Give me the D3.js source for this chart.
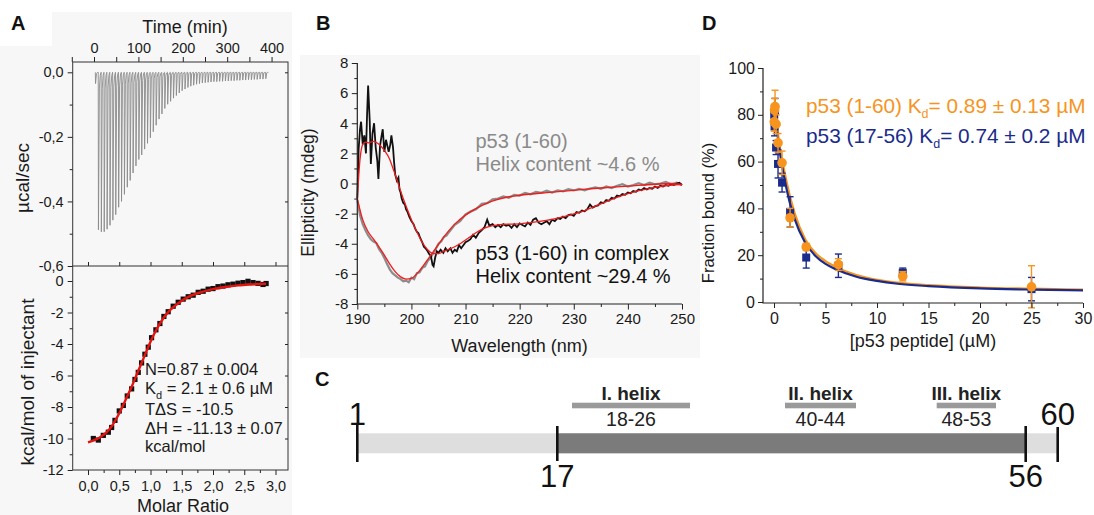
<!DOCTYPE html>
<html>
<head>
<meta charset="utf-8">
<script src="https://cdn.jsdelivr.net/npm/d3@7"></script>
<style>
body { margin: 0; background: #fff; }
svg { display: block; font-family: "Liberation Sans", Arial, sans-serif; }
.tick text { fill: #1a1a1a; }
.tick line { stroke: #222; }
</style>
</head>
<body>
<div id="chart"></div>
<script>
// ---------------- data ----------------
// A (top): ITC raw heats, one minimum per injection (µcal/sec)
const injectionTimes = [3, 9.5, 16, 22.5, 29, 35.5, 42, 48.5, 55, 61.5, 68, 74.5, 81, 87.5, 94, 100.5, 107, 113.5, 120, 126.5,
  133, 139.5, 146, 152.5, 159, 165.5, 172, 178.5, 185, 191.5, 198, 204.5, 211, 217.5, 224, 230.5, 237, 243.5, 250, 256.5,
  263, 269.5, 276, 282.5, 289, 295.5, 302, 308.5, 315, 321.5, 328, 334.5, 341, 347.5, 354, 360.5, 367, 373.5, 380, 386.5];
const injectionPeaks = [-0.035, -0.488, -0.494, -0.494, -0.486, -0.474, -0.458, -0.441, -0.418, -0.400,
  -0.378, -0.356, -0.335, -0.312, -0.290, -0.270, -0.256, -0.238, -0.220, -0.203,
  -0.184, -0.164, -0.145, -0.129, -0.112, -0.099, -0.090, -0.080, -0.072, -0.064,
  -0.057, -0.052, -0.047, -0.043, -0.040, -0.037, -0.035, -0.033, -0.032, -0.031,
  -0.030, -0.029, -0.029, -0.028, -0.028, -0.027, -0.027, -0.026, -0.026, -0.025,
  -0.025, -0.024, -0.024, -0.023, -0.023, -0.022, -0.022, -0.021, -0.021, -0.020];
const minTicks = [0, 100, 200, 300, 400];

// A (bottom): integrated heats (kcal/mol of injectant) vs molar ratio
const molarRatio = [0.085, 0.165, 0.245, 0.325, 0.378, 0.431, 0.50, 0.565, 0.628, 0.698, 0.751, 0.804, 0.857, 0.910,
  0.964, 1.017, 1.086, 1.15, 1.214, 1.283, 1.363, 1.443, 1.523, 1.603, 1.683, 1.763, 1.843, 1.922, 2.0, 2.08,
  2.16, 2.24, 2.32, 2.40, 2.48, 2.56, 2.64, 2.72, 2.80, 2.85];
const heats = [-10.0, -10.1, -9.8, -9.6, -9.3, -8.85, -8.25, -7.9, -7.3, -6.85, -6.25, -5.8, -5.2, -4.65,
  -4.2, -3.6, -3.1, -2.7, -2.25, -1.95, -1.6, -1.35, -1.15, -1.0, -0.9, -0.72, -0.65, -0.52, -0.48, -0.36,
  -0.32, -0.24, -0.2, -0.14, -0.1, -0.02, -0.1, -0.15, -0.22, -0.16];
const fitRatio = [0, 0.1, 0.2, 0.3, 0.4, 0.5, 0.6, 0.7, 0.8, 0.9, 1.0, 1.1, 1.2, 1.3, 1.4, 1.5, 1.6, 1.8, 2.0, 2.2, 2.4, 2.6, 2.85];
const fitHeat = [-10.25, -10.1, -9.9, -9.6, -9.1, -8.4, -7.55, -6.7, -5.75, -4.8, -3.85, -3.05, -2.4, -1.9, -1.55, -1.25,
  -1.02, -0.72, -0.52, -0.38, -0.28, -0.22, -0.17];
const itcText = ["N=0.87 ± 0.004", "K|d| = 2.1 ± 0.6 µM", "TΔS = -10.5", "ΔH = -11.13 ± 0.07", "kcal/mol"];

// B: CD spectra [wavelength nm, ellipticity mdeg]
const cdFree = [[190, -1.1], [190.5, -2.1], [191, -2.7], [191.5, -3.1], [192, -3.45], [192.5, -3.7], [193, -3.85], [193.5, -3.95],
  [194, -4.35], [194.5, -4.6], [195, -4.95], [195.5, -5.35], [196, -5.7], [196.5, -5.95], [197, -6.1], [197.5, -6.25],
  [198, -6.35], [198.5, -6.5], [199, -6.45], [199.5, -6.55], [200, -6.25], [200.5, -6.35], [201, -5.95], [201.5, -5.9],
  [202, -5.6], [202.5, -5.5], [203, -5.15], [203.5, -4.95], [204, -4.65], [204.5, -4.35], [205, -4.0], [205.5, -3.85],
  [206, -3.55], [206.5, -3.45], [207, -3.2], [208, -2.75], [209, -2.5], [210, -2.05], [211, -1.85], [212, -1.7],
  [213, -1.35], [214, -1.3], [215, -1.05], [216, -1.0], [217, -0.85], [218, -0.95], [219, -0.75], [220, -0.8],
  [221, -0.62], [222, -0.72], [223, -0.55], [224, -0.62], [225, -0.48], [226, -0.6], [227, -0.45], [228, -0.52],
  [229, -0.38], [230, -0.46], [231, -0.35], [232, -0.45], [233, -0.33], [234, -0.25], [235, -0.36], [236, -0.2],
  [237, -0.3], [238, -0.15], [239, -0.05], [240, -0.2], [241, -0.1], [242, 0.02], [243, -0.1], [244, 0.05],
  [245, -0.05], [246, 0.0], [247, 0.1], [248, -0.05], [249, 0.06], [250, -0.1]];
const cdFreeFit = [[190, -1.0], [191, -2.4], [192, -3.2], [193, -3.7], [194, -4.2], [195, -4.75], [196, -5.35], [197, -5.85],
  [198, -6.2], [199, -6.35], [200, -6.3], [201, -6.0], [202, -5.55], [203, -5.05], [204, -4.55], [205, -4.05],
  [206, -3.55], [207, -3.1], [208, -2.7], [210, -2.1], [212, -1.65], [214, -1.3], [216, -1.05], [218, -0.88],
  [220, -0.78], [225, -0.6], [230, -0.45], [235, -0.3], [240, -0.18], [245, -0.05], [248, 0.0], [250, -0.1]];
const cdComplex = [[190, -1.0], [190.25, 2.3], [190.5, 3.6], [190.7, 4.1], [191, 2.6], [191.3, 3.2], [191.6, 2.0], [191.8, 4.5],
  [192, 6.5], [192.3, 4.1], [192.5, 1.3], [192.8, 3.3], [193.1, 4.0], [193.4, 2.4], [193.7, 1.5], [193.9, 0.3],
  [194.2, 2.5], [194.5, 3.2], [194.7, 3.6], [195, 2.1], [195.3, 2.9], [195.5, 2.6], [195.8, 2.1], [196.1, 2.6],
  [196.3, 3.2], [196.6, 2.4], [196.8, 1.4], [197, 0.6], [197.3, 0.2], [197.6, 0.4], [197.8, -0.4], [198, -0.6],
  [198.2, -1.0], [198.5, -1.3], [198.8, -1.4], [199, -1.7], [199.3, -1.9], [199.6, -2.2], [200, -2.5], [200.4, -2.7],
  [200.7, -3.0], [201, -3.2], [201.3, -3.3], [201.6, -3.6], [202, -3.9], [202.3, -4.2], [202.6, -4.3], [203, -4.5],
  [203.3, -4.7], [203.6, -4.8], [203.9, -5.4], [204.1, -5.5], [204.4, -4.9], [204.7, -4.5], [205, -4.6], [205.4, -4.4],
  [205.9, -4.6], [206.3, -4.3], [206.7, -4.5], [207.2, -4.3], [207.6, -4.6], [208, -4.4], [208.4, -4.5], [208.8, -4.1],
  [209.2, -4.3], [209.6, -4.1], [210, -3.9], [210.5, -3.8], [210.9, -3.7], [211.4, -3.4], [211.9, -3.6], [212.4, -3.3],
  [213, -3.1], [213.5, -2.9], [214, -2.4], [214.4, -2.8], [215, -2.7], [215.5, -2.9], [216, -2.75], [216.5, -2.9],
  [217, -2.7], [217.5, -2.8], [218, -2.75], [218.5, -2.95], [219, -2.7], [219.5, -2.9], [220, -2.65], [220.5, -2.75],
  [221, -2.85], [221.5, -2.6], [222, -2.75], [222.5, -2.4], [223, -2.3], [223.5, -2.6], [224, -2.7], [224.5, -2.6],
  [225, -2.5], [225.5, -2.7], [226, -2.4], [226.5, -2.5], [227, -2.3], [227.5, -2.35], [228, -2.2], [228.5, -2.3],
  [229, -2.1], [229.5, -2.05], [230, -2.15], [230.5, -1.9], [231, -1.95], [231.5, -1.8], [232, -1.85], [232.5, -1.7],
  [233, -1.4], [233.5, -1.6], [234, -1.5], [234.5, -1.45], [235, -1.25], [235.5, -1.3], [236, -1.1], [236.5, -1.15],
  [237, -0.95], [237.5, -1.0], [238, -0.8], [238.5, -0.85], [239, -0.7], [239.5, -0.75], [240, -0.6], [240.5, -0.65],
  [241, -0.5], [241.5, -0.55], [242, -0.4], [242.5, -0.45], [243, -0.3], [243.5, -0.4], [244, -0.3], [244.5, -0.35],
  [245, -0.2], [245.5, -0.3], [246, -0.15], [246.5, -0.2], [247, -0.1], [247.5, -0.15], [248, -0.05], [248.5, -0.1],
  [249, 0.0], [249.5, 0.05], [250, -0.1]];
const cdComplexFit = [[190, -1.0], [190.5, 1.6], [191, 2.6], [191.5, 2.75], [192, 2.7], [193, 2.8], [194, 2.6], [195, 2.2],
  [196, 1.6], [196.5, 1.1], [197, 0.6], [198, -0.5], [199, -1.5], [200, -2.4], [201, -3.2], [202, -3.9], [203, -4.4],
  [204, -4.65], [205, -4.65], [206, -4.5], [207, -4.35], [208, -4.2], [209, -4.0], [210, -3.75], [211, -3.5],
  [212, -3.25], [213, -3.05], [214, -2.9], [215, -2.8], [216, -2.75], [218, -2.7], [220, -2.68], [222, -2.6],
  [224, -2.5], [226, -2.38], [228, -2.22], [230, -2.02], [232, -1.8], [234, -1.5], [236, -1.2], [238, -0.92],
  [240, -0.68], [242, -0.48], [244, -0.32], [246, -0.2], [248, -0.1], [250, -0.05]];

// C: p53 construct
const residueEnds = [1, 60];
const coreRegion = [17, 56];
const helixNames = ["I. helix", "II. helix", "III. helix"];
const helixRanges = [[18, 26], [40, 44], [48, 53]];

// D: fraction bound vs peptide concentration
const peptideConc = [0.02, 0.05, 0.1, 0.2, 0.39, 0.78, 1.56, 3.125, 6.25, 12.5, 25];
const bound1to60 = [77, 82, 83.5, 76, 68, 59.5, 36, 23.5, 16, 11, 6.5];
const err1to60 = [4, 5, 7, 4, 4, 5, 4, 1.5, 2.5, 2, 9];
const bound17to56 = [80, 75, 82, 66, 59, 51, 38.5, 19, 15.5, 12.5, 5.5];
const err17to56 = [4, 4, 5, 3, 6, 4, 6.5, 4.5, 5, 2, 5];
const fitConc = [0, 0.25, 0.5, 1, 1.5, 2, 3, 4, 5, 6, 8, 10, 12, 15, 20, 25, 30];
const fit1to60 = [85, 77, 68, 56, 46, 38, 27, 21, 17.5, 15, 11.5, 9.5, 8.3, 7.2, 6.2, 5.7, 5.3];
const fit17to56 = [84, 75, 66, 53, 43, 35.5, 25.5, 19.8, 16.3, 14, 10.8, 9, 7.8, 6.8, 5.8, 5.3, 5.0];

// ---------------- drawing ----------------
const W = 1094, H = 515;
const svg = d3.select('#chart').append('svg').attr('width', W).attr('height', H);
svg.append('rect').attr('width', W).attr('height', H).attr('fill', '#fff');
svg.append('rect').attr('x', 0).attr('y', 12).attr('width', 292).attr('height', 503).attr('fill', '#f7f7f7');
svg.append('rect').attr('x', 0).attr('y', 0).attr('width', 52).attr('height', 46).attr('fill', '#fff');
svg.append('rect').attr('x', 300).attr('y', 55).attr('width', 400).attr('height', 303).attr('fill', '#f7f7f7');

const fmtComma = d3.formatLocale({decimal: ',', thousands: '.', grouping: [3], currency: ['', ''], minus: '-'}).format('.1f');
const fmtInt = d3.formatLocale({decimal: '.', thousands: ',', grouping: [3], currency: ['', ''], minus: '-'}).format('d');

// axis helper: draws ticks only, no domain line
function ticks(g, axisFn, scale, values, size, fmt, pad, fontSize) {
  const ax = axisFn(scale).tickValues(values).tickSizeInner(size).tickSizeOuter(0).tickPadding(pad)
    .tickFormat(fmt || '');
  const sel = g.append('g').call(ax);
  sel.select('.domain').remove();
  sel.selectAll('text').style('font-size', fontSize + 'px').attr('font-family', null);
  sel.attr('font-family', null);
  return sel;
}

function panelLabel(txt, x, y) {
  svg.append('text').attr('x', x).attr('y', y).text(txt)
    .style('font-size', '20px').style('font-weight', 'bold').attr('fill', '#111');
}

function label(txt, x, y, size, rotate, color) {
  const t = svg.append('text').text(txt).attr('text-anchor', 'middle')
    .style('font-size', size + 'px').attr('fill', color || '#1a1a1a');
  if (rotate) t.attr('transform', `translate(${x},${y}) rotate(-90)`);
  else t.attr('x', x).attr('y', y);
  return t;
}

// ===== Panel A =====
panelLabel('A', 11, 30);
const aLeft = 72.7, aRight = 288, aTop = 62, aMid = 266, aBottom = 470;
const xT = d3.scaleLinear().domain([-48, 437]).range([aLeft, aRight]);
const yT = d3.scaleLinear().domain([-0.6, 0]).range([aMid, 72.3]);
const xB = d3.scaleLinear().domain([-0.245, 3.2]).range([aLeft, aRight]);
const yB = d3.scaleLinear().domain([-12, 0]).range([aBottom, 281]);

const gA = svg.append('g');
// raw thermogram: each injection drawn as a sharp spike from its minimum
const thermo = [];
injectionTimes.forEach((t, i) => {
  const d = injectionPeaks[i];
  thermo.push([t, 0], [t + 0.5, d], [t + 2.6, d * 0.1], [t + 4.5, d * 0.02], [t + 6.4, 0]);
});
gA.append('path').datum(thermo)
  .attr('d', d3.line().x(d => xT(d[0])).y(d => yT(d[1])))
  .attr('fill', 'none').attr('stroke', '#8a8a8a').attr('stroke-width', 0.9);

ticks(gA, d3.axisTop, xT, minTicks, 5, d => d, 4, 14.5).attr('transform', `translate(0,${aTop})`);
ticks(gA, d3.axisTop, xT, [-50, 50, 150, 250, 350], 5, null, 4, 14).attr('transform', `translate(0,${aTop})`);
ticks(gA, d3.axisLeft, yT, [0, -0.2, -0.4, -0.6], 5, fmtComma, 4, 14.5).attr('transform', `translate(${aLeft},0)`);
ticks(gA, d3.axisLeft, yT, [-0.1, -0.3, -0.5], 3, null, 4, 14).attr('transform', `translate(${aLeft},0)`);
ticks(gA, d3.axisLeft, yT, [0, -0.2, -0.4], 3, null, 4, 14).attr('transform', `translate(${aRight},0)`);

// bottom: integrated heats
gA.append('g').selectAll('rect').data(molarRatio).join('rect')
  .attr('x', (d) => xB(d) - 2.6).attr('y', (d, i) => yB(heats[i]) - 2.6)
  .attr('width', 5.2).attr('height', 5.2).attr('fill', '#111');
gA.append('path').datum(fitRatio)
  .attr('d', d3.line().curve(d3.curveMonotoneX).x(d => xB(d)).y((d, i) => yB(fitHeat[i])))
  .attr('fill', 'none').attr('stroke', '#e3140f').attr('stroke-width', 2.4);

ticks(gA, d3.axisBottom, xB, [0, 0.5, 1, 1.5, 2, 2.5, 3], 5, fmtComma, 6, 14.5).attr('transform', `translate(0,${aBottom})`);
ticks(gA, d3.axisBottom, xB, [0.25, 0.75, 1.25, 1.75, 2.25, 2.75], 3, null, 4, 14).attr('transform', `translate(0,${aBottom})`);
ticks(gA, d3.axisTop, xB, [0, 0.5, 1, 1.5, 2, 2.5, 3], 4, null, 4, 14).attr('transform', `translate(0,${aMid})`);
ticks(gA, d3.axisLeft, yB, [0, -2, -4, -6, -8, -10, -12], 5, fmtInt, 4, 14.5).attr('transform', `translate(${aLeft},0)`);
ticks(gA, d3.axisLeft, yB, [-1, -3, -5, -7, -9, -11], 3, null, 4, 14).attr('transform', `translate(${aLeft},0)`);
ticks(gA, d3.axisLeft, yB, [0, -2, -4, -6, -8, -10], 3, null, 4, 14).attr('transform', `translate(${aRight},0)`);

gA.append('rect').attr('x', aLeft).attr('y', aTop).attr('width', aRight - aLeft).attr('height', aBottom - aTop)
  .attr('fill', 'none').attr('stroke', '#333').attr('stroke-width', 1);
gA.append('line').attr('x1', aLeft).attr('x2', aRight).attr('y1', aMid).attr('y2', aMid)
  .attr('stroke', '#333').attr('stroke-width', 1.2);

label('Time (min)', 185, 33, 18);
label('µcal/sec', 29, 178, 19, true);
label('kcal/mol of injectant', 34, 382, 19, true);
label('Molar Ratio', 183, 512, 18);

const itcY = [375, 393.5, 415, 434, 452];
itcText.forEach((s, i) => {
  const t = svg.append('text').attr('x', 145).attr('y', itcY[i]).style('font-size', '16.5px').attr('fill', '#1a1a1a');
  const parts = s.split('|');
  if (parts.length === 1) { t.text(s); return; }
  t.append('tspan').text(parts[0]);
  t.append('tspan').text(parts[1]).attr('dy', 5).style('font-size', '11px');
  t.append('tspan').text(parts[2]).attr('dy', -5);
});

// ===== Panel B =====
panelLabel('B', 316, 30);
const xCD = d3.scaleLinear().domain([190, 250]).range([357.3, 682]);
const yCD = d3.scaleLinear().domain([-8, 8]).range([304, 63]);
const gB = svg.append('g');
const cdLine = d3.line().x(d => xCD(d[0])).y(d => yCD(d[1]));
const cdSmooth = d3.line().curve(d3.curveMonotoneX).x(d => xCD(d[0])).y(d => yCD(d[1]));
gB.append('path').datum(cdFree).attr('d', cdLine).attr('fill', 'none').attr('stroke', '#8c8c8c').attr('stroke-width', 2.2);
gB.append('path').datum(cdComplex).attr('d', cdLine).attr('fill', 'none').attr('stroke', '#111').attr('stroke-width', 1.8);
gB.append('path').datum(cdFreeFit).attr('d', cdSmooth).attr('fill', 'none').attr('stroke', '#ee1c1c').attr('stroke-width', 1.3);
gB.append('path').datum(cdComplexFit).attr('d', cdSmooth).attr('fill', 'none').attr('stroke', '#ee1c1c').attr('stroke-width', 1.3);

ticks(gB, d3.axisLeft, yCD, d3.range(-8, 9, 2), 5.5, fmtInt, 3.5, 15).attr('transform', `translate(${xCD(190)},0)`);
ticks(gB, d3.axisLeft, yCD, d3.range(-7, 8, 2), 3, null, 3, 15).attr('transform', `translate(${xCD(190)},0)`);
ticks(gB, d3.axisBottom, xCD, d3.range(190, 251, 10), 5.5, fmtInt, 4, 15).attr('transform', `translate(0,${yCD(-8)})`);
ticks(gB, d3.axisBottom, xCD, d3.range(195, 250, 10), 3, null, 4, 15).attr('transform', `translate(0,${yCD(-8)})`);
gB.append('path').attr('d', `M${xCD(190)},${yCD(8)}V${yCD(-8)}H${xCD(250)}`)
  .attr('fill', 'none').attr('stroke', '#222').attr('stroke-width', 1.2);

label('Wavelength (nm)', 519.5, 352, 18);
label('Ellipticity (mdeg)', 314, 192.5, 17.5, true);
[['p53 (1-60)', 148, '#8a8a8a'], ['Helix content ~4.6 %', 171, '#8a8a8a'],
 ['p53 (1-60) in complex', 260, '#111'], ['Helix content ~29.4 %', 283, '#111']].forEach(d => {
  svg.append('text').attr('x', 475.5).attr('y', d[1]).text(d[0]).style('font-size', '20px').attr('fill', d[2]);
});

// ===== Panel C =====
panelLabel('C', 315, 386);
const rx = d3.scaleLinear()
  .domain([1, 17, 18, 27, 40, 45, 48, 54, 56, 60])
  .range([357.3, 557.3, 572, 690, 785, 856, 936.7, 996, 1025.7, 1057.7]);
const gC = svg.append('g');
const barTop = 433.3, barH = 20;
gC.append('rect').attr('x', rx(residueEnds[0])).attr('y', barTop).attr('width', rx(residueEnds[1]) - rx(residueEnds[0]))
  .attr('height', barH).attr('fill', '#dedede');
gC.append('rect').attr('x', rx(coreRegion[0])).attr('y', barTop).attr('width', rx(coreRegion[1]) - rx(coreRegion[0]))
  .attr('height', barH).attr('fill', '#7b7b7b');
gC.selectAll('.helix').data(helixRanges).join('rect').attr('class', 'helix')
  .attr('x', d => rx(d[0])).attr('y', 402.7).attr('width', d => rx(d[1] + 1) - rx(d[0])).attr('height', 5.6)
  .attr('fill', '#9a9a9a');
gC.selectAll('.hname').data(helixRanges).join('text').attr('class', 'hname')
  .attr('x', d => (rx(d[0]) + rx(d[1] + 1)) / 2).attr('y', 400).attr('text-anchor', 'middle')
  .style('font-size', '19px').style('font-weight', 'bold').attr('fill', '#222').text((d, i) => helixNames[i]);
gC.selectAll('.hrange').data(helixRanges).join('text').attr('class', 'hrange')
  .attr('x', d => (rx(d[0]) + rx(d[1] + 1)) / 2).attr('y', 426).attr('text-anchor', 'middle')
  .style('font-size', '19.5px').attr('fill', '#222').text(d => d[0] + '-' + d[1]);
const marks = [[residueEnds[0], 425, 462, 'up'], [coreRegion[0], 426, 461, 'down'],
  [coreRegion[1], 426, 462, 'down'], [residueEnds[1], 427, 462, 'up']];
gC.selectAll('.mark').data(marks).join('line').attr('class', 'mark')
  .attr('x1', d => rx(d[0])).attr('x2', d => rx(d[0])).attr('y1', d => d[1]).attr('y2', d => d[2])
  .attr('stroke', '#111').attr('stroke-width', 2.6);
gC.selectAll('.mlab').data(marks).join('text').attr('class', 'mlab')
  .attr('x', d => rx(d[0])).attr('y', d => d[3] === 'up' ? 424.5 : 487).attr('text-anchor', 'middle')
  .style('font-size', '31px').attr('fill', '#111').text(d => d[0]);

// ===== Panel D =====
panelLabel('D', 702, 30);
const xD = d3.scaleLinear().domain([-1.07, 30]).range([763, 1083]);
const yD = d3.scaleLinear().domain([0, 100]).range([302, 68]);
const orange = '#f7941e', navy = '#1a2b8c';
const gD = svg.append('g');
const fitLine = vals => d3.line().curve(d3.curveMonotoneX).x(d => xD(d)).y((d, i) => yD(vals[i]));
gD.append('path').datum(fitConc).attr('d', fitLine(fit1to60)).attr('fill', 'none').attr('stroke', orange).attr('stroke-width', 2.2);
gD.append('path').datum(fitConc).attr('d', fitLine(fit17to56)).attr('fill', 'none').attr('stroke', navy).attr('stroke-width', 2.2);

function errorBars(vals, errs, color) {
  const g = gD.append('g').attr('stroke', color).attr('stroke-width', 1.4);
  peptideConc.forEach((c, i) => {
    const x = xD(c), y1 = yD(vals[i] + errs[i]), y2 = yD(vals[i] - errs[i]);
    g.append('line').attr('x1', x).attr('x2', x).attr('y1', y1).attr('y2', y2);
    g.append('line').attr('x1', x - 3.5).attr('x2', x + 3.5).attr('y1', y1).attr('y2', y1);
    g.append('line').attr('x1', x - 3.5).attr('x2', x + 3.5).attr('y1', y2).attr('y2', y2);
  });
}
errorBars(bound17to56, err17to56, navy);
gD.append('g').selectAll('rect').data(peptideConc).join('rect')
  .attr('x', d => xD(d) - 4).attr('y', (d, i) => yD(bound17to56[i]) - 4)
  .attr('width', 8).attr('height', 8).attr('fill', navy);
errorBars(bound1to60, err1to60, orange);
gD.append('g').selectAll('circle').data(peptideConc).join('circle')
  .attr('cx', d => xD(d)).attr('cy', (d, i) => yD(bound1to60[i])).attr('r', 4.8).attr('fill', orange);

ticks(gD, d3.axisLeft, yD, d3.range(0, 101, 20), 5, fmtInt, 3, 16).attr('transform', `translate(763,0)`);
ticks(gD, d3.axisLeft, yD, d3.range(10, 100, 20), 3, null, 3, 16).attr('transform', `translate(763,0)`);
ticks(gD, d3.axisBottom, xD, d3.range(0, 31, 5), 5, fmtInt, 5, 16).attr('transform', `translate(0,303)`);
ticks(gD, d3.axisBottom, xD, d3.range(2.5, 30, 5), 3, null, 5, 16).attr('transform', `translate(0,303)`);
gD.append('path').attr('d', `M763,${yD(100)}V303H${xD(30)}`).attr('fill', 'none').attr('stroke', '#222').attr('stroke-width', 1.2);

label('[p53 peptide] (µM)', 923, 347, 18);
label('Fraction bound (%)', 714, 213, 16.5, true);

function kdText(y, parts, color) {
  const t = svg.append('text').attr('x', 806).attr('y', y).style('font-size', '20.8px').attr('fill', color);
  t.append('tspan').text(parts[0]);
  t.append('tspan').text('d').attr('dy', 5).style('font-size', '12.5px');
  t.append('tspan').text(parts[1]).attr('dy', -5);
}
kdText(113, ['p53 (1-60) K', '= 0.89 ± 0.13 µM'], orange);
kdText(143, ['p53 (17-56) K', '= 0.74 ± 0.2 µM'], navy);
</script>
</body>
</html>
